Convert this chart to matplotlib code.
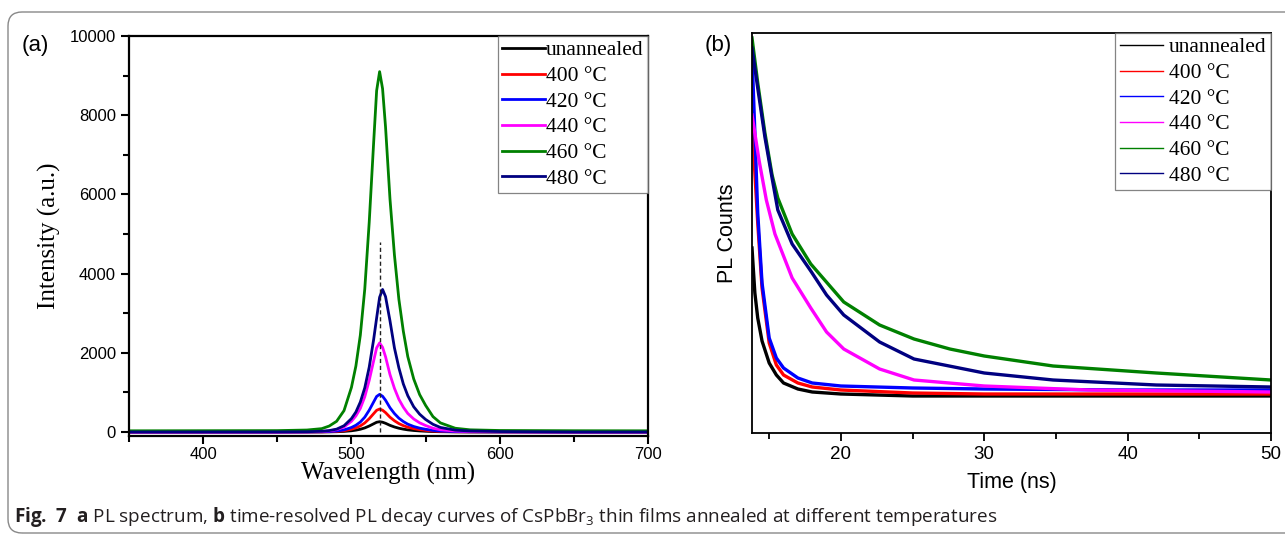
import matplotlib
matplotlib.use("Agg")
import matplotlib.pyplot as plt
from matplotlib.patches import FancyBboxPatch
from matplotlib.ticker import MultipleLocator

# ---------------- data: panel (a) PL spectra ----------------
wavelength = [350, 450, 470, 480, 485, 490, 495, 500, 503, 506, 509, 512, 515, 517, 519,
              521, 523, 526, 529, 532, 535, 538, 542, 546, 550, 555, 560, 570, 580, 600, 650, 700]
pl_unannealed = [0, 0, 1, 2, 3, 7, 15, 31, 47, 69, 103, 151, 208, 246, 260,
                 247, 220, 168, 127, 95, 72, 54, 38, 27, 19, 11, 7, 3, 2, 1, 0, 0]
pl_400 = [0, 0, 1, 3, 8, 15, 32, 70, 104, 154, 229, 336, 464, 548, 580,
          551, 490, 374, 284, 213, 161, 121, 85, 60, 42, 24, 15, 6, 3, 2, 0, 0]
pl_420 = [0, 0, 2, 6, 12, 25, 53, 114, 171, 252, 375, 551, 760, 898, 950,
          903, 803, 613, 466, 349, 264, 198, 139, 98, 69, 40, 24, 10, 6, 3, 0, 0]
pl_440 = [0, 1, 5, 14, 29, 59, 126, 270, 405, 596, 889, 1305, 1800, 2126, 2250,
          2138, 1901, 1451, 1103, 826, 626, 468, 329, 232, 164, 95, 56, 23, 14, 7, 0, 0]
pl_460 = [30, 35, 50, 85, 150, 270, 540, 1125, 1665, 2445, 3610, 5300, 7320, 8620, 9100,
          8670, 7705, 5885, 4470, 3350, 2545, 1905, 1340, 945, 673, 388, 230, 95, 55, 38, 32, 30]
pl_480 = [0, 2, 7, 18, 36, 72, 158, 338, 504, 756, 1116, 1638, 2340, 2880, 3402,
          3600, 3420, 2808, 2124, 1620, 1213, 918, 637, 450, 317, 194, 115, 47, 25, 11, 0, 0]
peak_marker_wl = 519
peak_marker_top = 4800

# ---------------- data: panel (b) TRPL decay (arbitrary units) ----------------
t_unannealed = [13.8, 14.0, 14.2, 14.5, 15.0, 15.5, 16.0, 17.0, 18.0, 20.0, 25.0, 50.0]
c_unannealed = [185, 140, 115, 92, 70, 58, 50, 44, 41, 39, 37, 37]
t_400 = [13.8, 14.0, 14.2, 14.5, 15.0, 15.5, 16.0, 17.0, 18.0, 20.0, 25.0, 30.0, 50.0]
c_400 = [313, 260, 210, 145, 90, 68, 58, 50, 46, 43, 40, 39, 39]
t_420 = [13.8, 14.0, 14.2, 14.5, 15.0, 15.5, 16.0, 17.0, 18.0, 20.0, 25.0, 30.0, 40.0, 50.0]
c_420 = [380, 300, 220, 150, 95, 75, 65, 55, 50, 47, 45, 44, 43, 43]
t_440 = [13.8, 14.3, 14.8, 15.4, 16.6, 17.9, 19.0, 20.2, 22.7, 25.1, 30.0, 37.3, 50.0]
c_440 = [318, 272, 233, 199, 155, 125, 101, 84, 64, 53, 47, 43, 41]
t_460 = [13.8, 14.2, 14.7, 15.2, 15.6, 16.6, 17.9, 20.2, 22.7, 25.1, 27.6, 30.0, 34.8, 42.0, 50.0]
c_460 = [395, 350, 300, 258, 235, 199, 169, 131, 108, 94, 84, 77, 67, 60, 53]
t_480 = [13.8, 14.2, 14.7, 15.2, 15.6, 16.6, 17.9, 19.0, 20.2, 22.7, 25.1, 30.0, 34.8, 42.0, 50.0]
c_480 = [385, 345, 296, 255, 223, 189, 162, 138, 118, 91, 74, 60, 53, 48, 46]

labels = ["unannealed", "400 \u00b0C", "420 \u00b0C", "440 \u00b0C", "460 \u00b0C", "480 \u00b0C"]
colors = ["#000000", "#ff0000", "#0000ff", "#ff00ff", "#008000", "#000080"]

SANS = ["Liberation Sans", "DejaVu Sans"]
SERIF = ["Liberation Serif", "DejaVu Serif"]
plt.rcParams["font.family"] = SANS
plt.rcParams["mathtext.fontset"] = "custom"
plt.rcParams["mathtext.rm"] = "Open Sans"
plt.rcParams["mathtext.bf"] = "Open Sans:bold"

W, H = 1285, 536
fig = plt.figure(figsize=(W / 100, H / 100), dpi=100)

def ax_rect(l, r, t, b):
    return [l / W, (H - b) / H, (r - l) / W, (b - t) / H]

# ---------------- panel (a) ----------------
axa = fig.add_axes(ax_rect(129, 648, 36, 436))
series_a = [pl_unannealed, pl_400, pl_420, pl_440, pl_460, pl_480]
for y, c, lab in zip(series_a, colors, labels):
    axa.plot(wavelength, y, color=c, lw=2.0, label=lab)
axa.plot([peak_marker_wl, peak_marker_wl], [0, peak_marker_top], color="#222222",
         lw=1.0, ls=(0, (3, 2)))
axa.set_xlim(350, 700)
axa.set_ylim(-101, 10000)
axa.xaxis.set_major_locator(MultipleLocator(100))
axa.xaxis.set_minor_locator(MultipleLocator(50))
axa.yaxis.set_major_locator(MultipleLocator(2000))
axa.yaxis.set_minor_locator(MultipleLocator(1000))
axa.tick_params(which="both", direction="out", width=1.5, labelsize=12)
axa.tick_params(which="major", length=6)
axa.tick_params(which="minor", length=4)
axa.tick_params(axis="x", which="major", pad=2)
for s in axa.spines.values():
    s.set_linewidth(1.6)
axa.set_xlabel("Wavelength (nm)", family=SERIF, fontsize=18, labelpad=0)
axa.set_ylabel("Intensity (a.u.)", family=SERIF, fontsize=18, labelpad=6)
leg = axa.legend(loc="upper right", borderaxespad=0.0, prop={"family": SERIF, "size": 15.5},
                 handlelength=2.0, handletextpad=0.05, labelspacing=0.26, fancybox=False,
                 edgecolor="#666666", borderpad=0.2)
leg.get_frame().set_linewidth(0.9)
for ln in leg.get_lines():
    ln.set_linewidth(2.0)
fig.text(22 / W, 1 - 45 / H, "(a)", fontsize=16, family=SANS, va="center")

# ---------------- panel (b) ----------------
axb = fig.add_axes(ax_rect(752, 1271, 33, 433))
series_b = [(t_unannealed, c_unannealed), (t_400, c_400), (t_420, c_420),
            (t_440, c_440), (t_460, c_460), (t_480, c_480)]
for (t, c_), col, lab in zip(series_b, colors, labels):
    axb.plot(t, c_, color=col, lw=2.4, label=lab)
axb.set_xlim(13.8, 50)
axb.set_ylim(0, 400)
axb.xaxis.set_major_locator(MultipleLocator(10))
axb.xaxis.set_minor_locator(MultipleLocator(5))
axb.set_yticks([])
axb.tick_params(axis="x", which="both", direction="out", width=1.3, labelsize=13.5)
axb.tick_params(axis="x", which="major", length=6)
axb.tick_params(axis="x", which="minor", length=4)
for s in axb.spines.values():
    s.set_linewidth(1.3)
axb.set_xlabel("Time (ns)", fontsize=15.5, labelpad=6)
axb.set_ylabel("PL Counts", fontsize=15.5, labelpad=10)
legb = axb.legend(loc="upper right", borderaxespad=0.0, prop={"family": SERIF, "size": 15.5},
                  handlelength=2.0, handletextpad=0.3, labelspacing=0.26, fancybox=False,
                  edgecolor="#666666", borderpad=0.2)
legb.get_frame().set_linewidth(0.9)
for ln in legb.get_lines():
    ln.set_linewidth(1.0)
fig.text(705 / W, 1 - 45 / H, "(b)", fontsize=16, family=SANS, va="center")

# ---------------- outer frame and caption ----------------
frame = FancyBboxPatch((8, 3), 1310, 521, boxstyle="round,pad=0,rounding_size=14",
                       transform=None, fill=False, edgecolor="#888888", lw=1.0)
fig.patches.append(frame)

caption = (r"$\mathbf{Fig.\ 7}$  $\mathbf{a}$ PL spectrum, $\mathbf{b}$ time-resolved PL decay curves "
           r"of CsPbBr$_3$ thin films annealed at different temperatures")
fig.text(14 / W, 1 - 517 / H, caption, fontsize=13.6, family=["Open Sans", "DejaVu Sans"],
         va="center", color="#231f20")

fig.savefig("out.png", dpi=100)
